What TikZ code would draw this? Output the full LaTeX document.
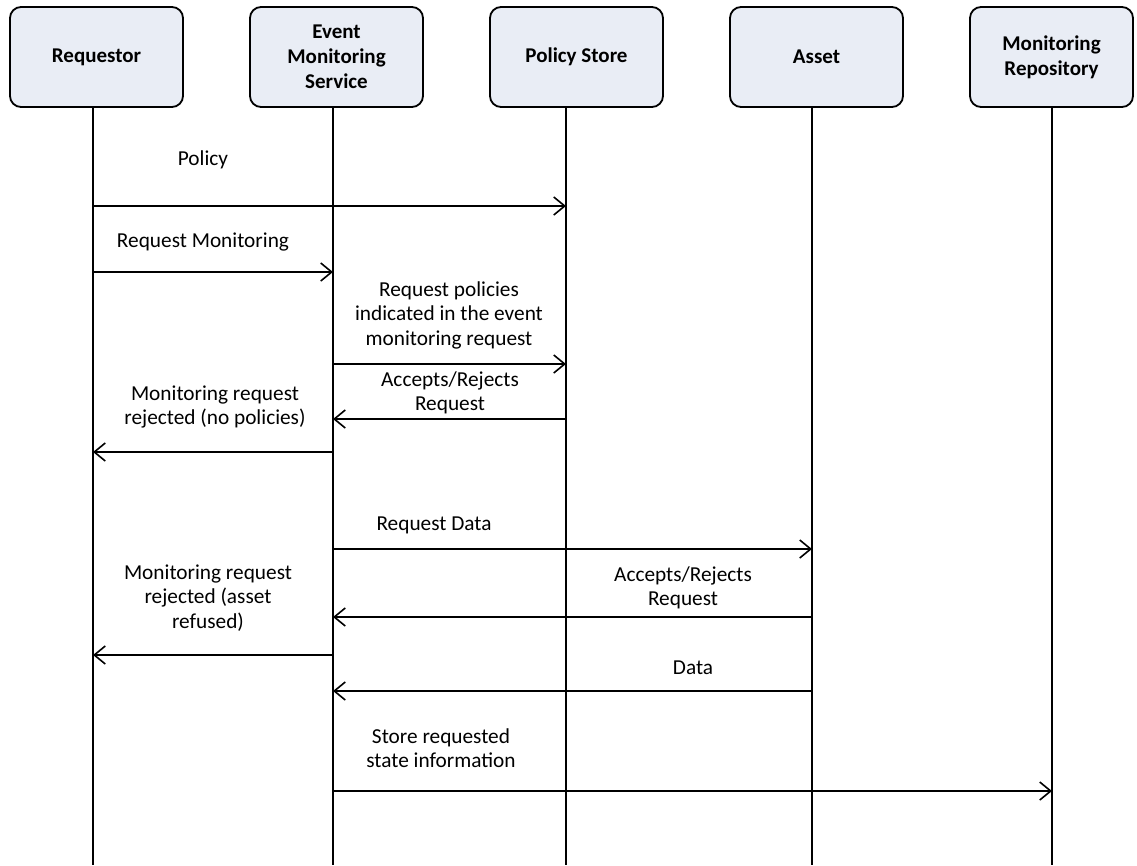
\documentclass[tikz,border=0pt]{standalone}
\usepackage{fontspec}
\setmainfont{Carlito}
\usetikzlibrary{arrows.meta}
\definecolor{boxfill}{RGB}{233,237,245}
\begin{document}
\begin{tikzpicture}[x=1pt,y=-1pt,
  actor/.style={draw=black, line width=1.8pt, fill=boxfill, rounded corners=11pt,
    minimum width=173pt, minimum height=100pt, align=center, inner sep=0pt,
    font=\bfseries\fontsize{21}{25}\selectfont},
  lifeline/.style={line width=1.8pt},
  msg/.style={line width=1.6pt, -{Straight Barb[length=11pt,width=18pt,line width=1.6pt]}},
  lbl/.style={align=center, inner sep=0pt, font=\fontsize{21.3}{24.5}\selectfont}]
\useasboundingbox (0,0) rectangle (1137,865);

% participants
\node[actor] (req) at (96.5,57) {Requestor};
\node[actor] (ems) at (336.5,57) {Event\\Monitoring\\Service};
\node[actor] (pol) at (576.5,57) {Policy Store};
\node[actor] (ast) at (816.5,57) {Asset};
\node[actor, minimum width=163pt] (rep) at (1051.5,57) {Monitoring\\Repository};

% lifeline bottoms
\coordinate (xReq) at (93,865);
\coordinate (xEms) at (333,865);
\coordinate (xPol) at (566,865);
\coordinate (xAst) at (812,865);
\coordinate (xRep) at (1052,865);

\draw[lifeline] (xReq |- req.south) -- (xReq);
\draw[lifeline] (xEms |- ems.south) -- (xEms);
\draw[lifeline] (xPol |- pol.south) -- (xPol);
\draw[lifeline] (xAst |- ast.south) -- (xAst);
\draw[lifeline] (xRep |- rep.south) -- (xRep);

% message levels
\coordinate (y1) at (0,206);
\coordinate (y2) at (0,272);
\coordinate (y3) at (0,364);
\coordinate (y4) at (0,419);
\coordinate (y5) at (0,452);
\coordinate (y6) at (0,549);
\coordinate (y7) at (0,617);
\coordinate (y8) at (0,655);
\coordinate (y9) at (0,691);
\coordinate (y10) at (0,791);

% messages
\draw[msg] (xReq |- y1) -- (xPol |- y1);
\draw[msg] (xReq |- y2) -- (xEms |- y2);
\draw[msg] (xEms |- y3) -- (xPol |- y3);
\draw[msg] (xPol |- y4) -- (xEms |- y4);
\draw[msg] (xEms |- y5) -- (xReq |- y5);
\draw[msg] (xEms |- y6) -- (xAst |- y6);
\draw[msg] (xAst |- y7) -- (xEms |- y7);
\draw[msg] (xEms |- y8) -- (xReq |- y8);
\draw[msg] (xAst |- y9) -- (xEms |- y9);
\draw[msg] (xEms |- y10) -- (xRep |- y10);

% message labels
\node[lbl] (t1) at (203,160) {Policy};
\node[lbl] (t2) at (203,242) {Request Monitoring};
\node[lbl] (t3) at (449,315) {Request policies\\indicated in the event\\monitoring request};
\node[lbl] (t4) at (450,393) {Accepts/Rejects\\Request};
\node[lbl] (t5) at (215,407) {Monitoring request\\rejected (no policies)};
\node[lbl] (t6) at (434,525) {Request Data};
\node[lbl] (t7) at (683,588) {Accepts/Rejects\\Request};
\node[lbl] (t8) at (208,598) {Monitoring request\\rejected (asset\\refused)};
\node[lbl] (t9) at (693,668) {Data};
\node[lbl] (t10) at (441,748) {Store requested\\state information};
\end{tikzpicture}
\end{document}
